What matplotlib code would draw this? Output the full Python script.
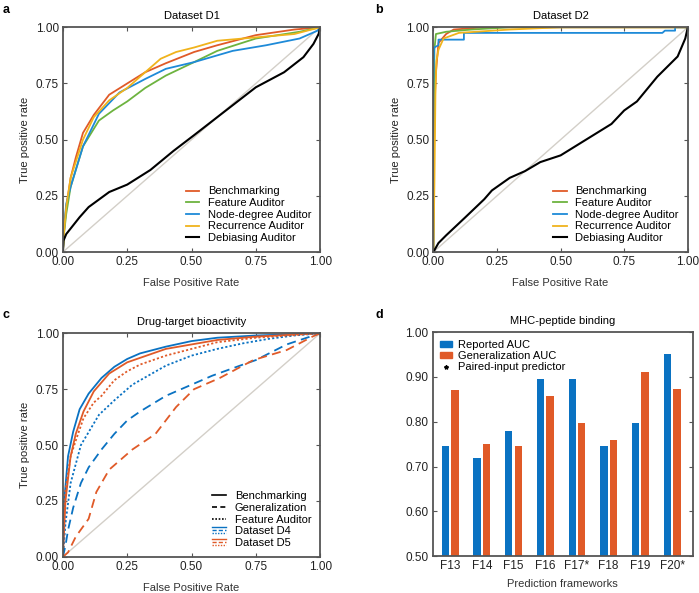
import matplotlib.pyplot as plt
import numpy as np
from matplotlib.legend_handler import HandlerBase
from matplotlib.lines import Line2D
from matplotlib.patches import Patch

plt.rcParams['font.family'] = ['Liberation Sans', 'DejaVu Sans']
plt.rcParams['font.size'] = 7.5

BLUE = '#0a72c2'
RED = '#e05a28'
GREEN = '#6db33f'
LBLUE = '#1e8ad8'
YELLOW = '#f0b31c'
DIAG = '#d3cfc8'
SPINE = '#555555'

# ---- panel a: Dataset D1 (fpr, tpr)
d1_bench_x = [0, 0.005, 0.013, 0.03, 0.05, 0.078, 0.12, 0.18, 0.25, 0.32, 0.40, 0.51, 0.60, 0.75, 0.90, 1.0]
d1_bench_y = [0, 0.10, 0.20, 0.33, 0.42, 0.53, 0.61, 0.70, 0.75, 0.80, 0.84, 0.89, 0.92, 0.965, 0.99, 1.0]
d1_feat_x = [0, 0.005, 0.013, 0.03, 0.078, 0.14, 0.195, 0.25, 0.32, 0.40, 0.51, 0.60, 0.75, 0.92, 1.0]
d1_feat_y = [0, 0.09, 0.17, 0.29, 0.47, 0.585, 0.63, 0.67, 0.73, 0.785, 0.845, 0.895, 0.95, 0.98, 1.0]
d1_node_x = [0, 0.005, 0.013, 0.03, 0.078, 0.14, 0.22, 0.32, 0.40, 0.51, 0.66, 0.79, 0.92, 0.99, 1.0]
d1_node_y = [0, 0.12, 0.215, 0.29, 0.47, 0.615, 0.71, 0.77, 0.815, 0.845, 0.895, 0.92, 0.95, 0.985, 1.0]
d1_recur_x = [0, 0.005, 0.013, 0.03, 0.078, 0.12, 0.18, 0.25, 0.32, 0.38, 0.44, 0.51, 0.60, 0.75, 0.90, 1.0]
d1_recur_y = [0, 0.10, 0.20, 0.33, 0.50, 0.60, 0.675, 0.73, 0.80, 0.86, 0.89, 0.91, 0.94, 0.955, 0.97, 1.0]
d1_debias_x = [0, 0.002, 0.013, 0.065, 0.10, 0.18, 0.25, 0.34, 0.43, 0.51, 0.60, 0.75, 0.86, 0.935, 0.974, 0.994, 1.0]
d1_debias_y = [0, 0.05, 0.08, 0.155, 0.20, 0.267, 0.30, 0.365, 0.45, 0.52, 0.60, 0.733, 0.80, 0.867, 0.926, 0.97, 1.0]

# ---- panel b: Dataset D2
d2_bench_x = [0, 0.003, 0.006, 0.01, 0.02, 0.05, 0.08, 0.2, 1.0]
d2_bench_y = [0, 0.50, 0.70, 0.80, 0.93, 0.97, 0.99, 1.0, 1.0]
d2_feat_x = [0, 0.002, 0.004, 0.01, 0.05, 0.15, 0.3, 1.0]
d2_feat_y = [0, 0.60, 0.90, 0.97, 0.98, 0.99, 1.0, 1.0]
d2_node_x = [0, 0.0, 0.003, 0.02, 0.02, 0.12, 0.12, 0.90, 0.91, 0.95, 0.95, 1.0]
d2_node_y = [0, 0.75, 0.91, 0.92, 0.945, 0.945, 0.975, 0.975, 0.985, 0.985, 1.0, 1.0]
d2_recur_x = [0, 0.004, 0.008, 0.012, 0.02, 0.04, 0.1, 0.3, 0.5, 1.0]
d2_recur_y = [0, 0.30, 0.70, 0.85, 0.90, 0.95, 0.975, 0.99, 1.0, 1.0]
d2_debias_x = [0, 0.02, 0.05, 0.126, 0.2, 0.23, 0.3, 0.36, 0.42, 0.5, 0.6, 0.7, 0.75, 0.8, 0.88, 0.96, 0.99, 1.0]
d2_debias_y = [0, 0.04, 0.074, 0.155, 0.235, 0.274, 0.33, 0.36, 0.40, 0.43, 0.50, 0.57, 0.63, 0.67, 0.78, 0.87, 0.95, 1.0]

# ---- panel c: Drug-target bioactivity
d4_bench_x = [0, 0.005, 0.02, 0.04, 0.065, 0.10, 0.15, 0.20, 0.25, 0.30, 0.40, 0.50, 0.60, 0.75, 1.0]
d4_bench_y = [0, 0.25, 0.45, 0.56, 0.66, 0.73, 0.80, 0.85, 0.885, 0.91, 0.94, 0.965, 0.98, 0.99, 1.0]
d5_bench_x = [0, 0.01, 0.03, 0.05, 0.08, 0.12, 0.18, 0.25, 0.30, 0.40, 0.50, 0.60, 0.75, 1.0]
d5_bench_y = [0, 0.25, 0.45, 0.55, 0.65, 0.74, 0.82, 0.87, 0.89, 0.93, 0.95, 0.97, 0.985, 1.0]
d4_gen_x = [0, 0.01, 0.02, 0.04, 0.07, 0.10, 0.15, 0.20, 0.25, 0.30, 0.40, 0.50, 0.58, 0.70, 0.75, 0.87, 1.0]
d4_gen_y = [0, 0.05, 0.12, 0.22, 0.33, 0.40, 0.48, 0.55, 0.61, 0.65, 0.72, 0.77, 0.81, 0.86, 0.88, 0.95, 1.0]
d5_gen_x = [0, 0.02, 0.05, 0.10, 0.13, 0.18, 0.27, 0.36, 0.44, 0.51, 0.61, 0.74, 0.87, 0.97, 1.0]
d5_gen_y = [0, 0.02, 0.09, 0.17, 0.29, 0.39, 0.48, 0.55, 0.67, 0.75, 0.80, 0.88, 0.925, 0.985, 1.0]
d4_feat_x = [0, 0.01, 0.03, 0.07, 0.14, 0.20, 0.27, 0.40, 0.50, 0.60, 0.70, 0.80, 0.90, 1.0]
d4_feat_y = [0, 0.15, 0.33, 0.50, 0.635, 0.70, 0.77, 0.855, 0.90, 0.93, 0.955, 0.975, 0.99, 1.0]
d5_feat_x = [0, 0.01, 0.03, 0.05, 0.08, 0.12, 0.15, 0.20, 0.25, 0.30, 0.40, 0.50, 0.60, 0.75, 1.0]
d5_feat_y = [0, 0.30, 0.45, 0.52, 0.62, 0.69, 0.72, 0.79, 0.83, 0.86, 0.90, 0.93, 0.96, 0.98, 1.0]

# ---- panel d: MHC-peptide binding
frameworks = ['F13', 'F14', 'F15', 'F16', 'F17*', 'F18', 'F19', 'F20*']
reported_auc = [0.745, 0.72, 0.78, 0.895, 0.895, 0.745, 0.797, 0.95]
general_auc = [0.87, 0.75, 0.745, 0.857, 0.797, 0.76, 0.91, 0.872]


class StackedLines(HandlerBase):
    """Legend handle with solid, dashed and dotted lines stacked."""
    def __init__(self, color):
        super().__init__()
        self.color = color

    def create_artists(self, legend, orig_handle, xdescent, ydescent, width, height, fontsize, trans):
        arts = []
        for frac, ls in zip([0.9, 0.5, 0.1], ['-', (0, (3, 1.5)), (0, (1, 1))]):
            y = -ydescent + height * frac
            ln = Line2D([-xdescent, -xdescent + width], [y, y], color=self.color, lw=1.0, linestyle=ls, transform=trans)
            arts.append(ln)
        return arts


def style_axes(ax, right=True, top=True, bottom=True):
    for s in ax.spines.values():
        s.set_color(SPINE)
        s.set_linewidth(1.3)
    ax.tick_params(direction='in', length=3, width=0.8, color=SPINE, labelcolor='#222222',
                   right=right, top=top, bottom=bottom, labelsize=8.5, pad=3)


def roc_axes(ax, title):
    ax.plot([0, 1], [0, 1], color=DIAG, lw=1.0, zorder=1)
    ax.set_xlim(0, 1)
    ax.set_ylim(0, 1)
    ticks = [0, 0.25, 0.5, 0.75, 1.0]
    ax.set_xticks(ticks)
    ax.set_yticks(ticks)
    ax.set_xticklabels([f'{t:.2f}' for t in ticks])
    ax.set_yticklabels([f'{t:.2f}' for t in ticks])
    ax.set_xlabel('False Positive Rate', fontsize=8, color='#333333', labelpad=7)
    ax.set_ylabel('True positive rate', fontsize=8, color='#222222', labelpad=4)
    ax.set_title(title, fontsize=8, pad=6)
    style_axes(ax)


def roc_legend(ax, *args, **kw):
    ax.legend(*args, loc='lower right', frameon=False, fontsize=8, handlelength=1.2,
              handletextpad=0.8, labelspacing=0.15, borderaxespad=0.4, **kw)


fig = plt.figure(figsize=(6.99, 5.93), dpi=100)
ax_a = fig.add_axes([0.090, 0.575, 0.368, 0.379])
ax_b = fig.add_axes([0.620, 0.575, 0.364, 0.379])
ax_c = fig.add_axes([0.090, 0.061, 0.368, 0.377])
ax_d = fig.add_axes([0.619, 0.062, 0.372, 0.378])

lw = 1.3
names = ['Benchmarking', 'Feature Auditor', 'Node-degree Auditor', 'Recurrence Auditor', 'Debiasing Auditor']
colors = [RED, GREEN, LBLUE, YELLOW, 'black']

# panel a
roc_axes(ax_a, 'Dataset D1')
curves_a = [(d1_bench_x, d1_bench_y), (d1_feat_x, d1_feat_y), (d1_node_x, d1_node_y),
            (d1_recur_x, d1_recur_y), (d1_debias_x, d1_debias_y)]
for (x, y), c, n in zip(curves_a, colors, names):
    ax_a.plot(x, y, color=c, lw=lw if c != 'black' else 1.5, label=n)
roc_legend(ax_a)

# panel b
roc_axes(ax_b, 'Dataset D2')
curves_b = [(d2_bench_x, d2_bench_y), (d2_feat_x, d2_feat_y), (d2_node_x, d2_node_y),
            (d2_recur_x, d2_recur_y), (d2_debias_x, d2_debias_y)]
for (x, y), c, n in zip(curves_b, colors, names):
    ax_b.plot(x, y, color=c, lw=lw if c != 'black' else 1.5, label=n)
roc_legend(ax_b)

# panel c
roc_axes(ax_c, 'Drug-target bioactivity')
dash = (0, (5, 3))
dot = (0, (1.2, 1.2))
ax_c.plot(d4_bench_x, d4_bench_y, color=BLUE, lw=lw)
ax_c.plot(d5_bench_x, d5_bench_y, color=RED, lw=lw)
ax_c.plot(d4_feat_x, d4_feat_y, color=BLUE, lw=lw, linestyle=dot)
ax_c.plot(d5_feat_x, d5_feat_y, color=RED, lw=lw, linestyle=dot)
ax_c.plot(d4_gen_x, d4_gen_y, color=BLUE, lw=lw, linestyle=dash)
ax_c.plot(d5_gen_x, d5_gen_y, color=RED, lw=lw, linestyle=dash)
h_c = [Line2D([], [], color='black', lw=1.2),
       Line2D([], [], color='black', lw=1.2, linestyle=(0, (3, 2))),
       Line2D([], [], color='black', lw=1.2, linestyle=(0, (1, 1))),
       Patch(), Patch(facecolor='none')]
roc_legend(ax_c, h_c, ['Benchmarking', 'Generalization', 'Feature Auditor', 'Dataset D4', 'Dataset D5'],
           handler_map={h_c[3]: StackedLines(BLUE), h_c[4]: StackedLines(RED)})

# panel d
xpos = np.arange(len(frameworks))
bw = 0.23
ax_d.bar(xpos - 0.15, reported_auc, width=bw, color=BLUE, label='Reported AUC')
ax_d.bar(xpos + 0.15, general_auc, width=bw, color=RED, label='Generalization AUC')
ax_d.set_ylim(0.5, 1.0)
ax_d.set_xlim(-0.55, 7.65)
ax_d.set_yticks(np.arange(0.5, 1.01, 0.1))
ax_d.set_yticklabels([f'{v:.2f}' for v in np.arange(0.5, 1.01, 0.1)])
ax_d.set_xticks(xpos)
ax_d.set_xticklabels(frameworks)
style_axes(ax_d, right=True, top=False, bottom=False)
ax_d.set_xlabel('Prediction frameworks', fontsize=8, color='#333333', labelpad=5)
ax_d.set_title('MHC-peptide binding', fontsize=8, pad=6)
h_d = [Patch(color=BLUE), Patch(color=RED),
       Line2D([], [], marker='*', color='black', markersize=3, linestyle='none')]
ax_d.legend(h_d, ['Reported AUC', 'Generalization AUC', 'Paired-input predictor'],
            loc='upper left', frameon=False, fontsize=8, handlelength=1.0, handleheight=0.5,
            handletextpad=0.6, labelspacing=0.1, borderaxespad=0.3)

for lab, (x, y) in zip('abcd', [(0.004, 0.983), (0.537, 0.983), (0.004, 0.468), (0.537, 0.468)]):
    fig.text(x, y, lab, fontsize=9, fontweight='bold', va='center')

fig.savefig('out.png', dpi=100)
